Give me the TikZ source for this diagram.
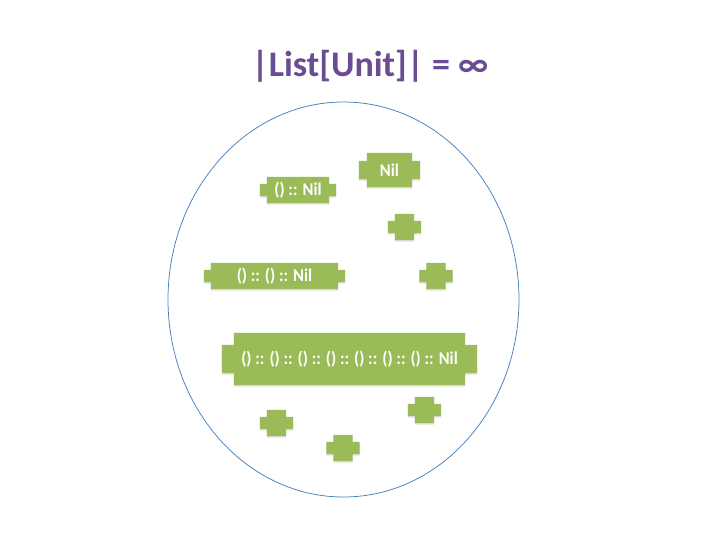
\documentclass[tikz,border=0pt]{standalone}
\usepackage{fontspec}
\setmainfont{Carlito}
\newfontfamily\blockfont{Carlito}[FakeStretch=0.92]
\usetikzlibrary{backgrounds,shadows,shapes.geometric}
\definecolor{titlepurple}{HTML}{6A4C93}
\definecolor{blockgreen}{HTML}{9BBB59}
\definecolor{ringblue}{HTML}{4A7EBB}
\tikzset{
  listblock/.style={inner sep=0pt, text=white, font=\blockfont\fontsize{18}{21}\selectfont\bfseries},
  unitblock/.style={listblock, minimum width=33pt, minimum height=26pt},
  blockfill/.style={fill=blockgreen, drop shadow={shadow xshift=0pt, shadow yshift=-1.5pt, opacity=0.12, fill=black}}
}
\begin{document}
\begin{tikzpicture}[x=1pt, y=-1pt]
\useasboundingbox (0,0) rectangle (720,540);
\node[text=titlepurple, font=\fontsize{36}{42}\selectfont\bfseries] (title) at (370,66) {|List[Unit]| = ∞};
\node[draw=ringblue, line width=0.75pt, ellipse, inner sep=0pt, minimum width=351pt, minimum height=395pt] (ring) at (343.5,299.5) {};
\node[listblock, minimum width=61pt, minimum height=34pt] (nil) at (389.5,170) {Nil};
\node[listblock, minimum width=76pt, minimum height=26pt] (one) at (298,190) {() :: Nil};
\node[listblock, minimum width=141pt, minimum height=26pt] (two) at (274.5,276) {() :: () :: Nil};
\node[listblock, minimum width=255pt, minimum height=52pt] (seven) at (349.5,359) {() :: () :: () :: () :: () :: () :: () :: Nil};
\node[unitblock] (u1) at (404.5,227) {};
\node[unitblock] (u2) at (436,276) {};
\node[unitblock] (u3) at (276.5,423) {};
\node[unitblock] (u4) at (343,448) {};
\node[unitblock] (u5) at (424.5,410) {};
\begin{scope}[on background layer]
\foreach \b/\n in {nil/8pt, one/7pt, two/7pt, seven/12pt, u1/7pt, u2/7pt, u3/7pt, u4/7pt, u5/7pt}
  \fill[blockfill] ([xshift=\n]\b.north west) -- ([xshift=-\n]\b.north east)
    -- ([xshift=-\n, yshift=-\n]\b.north east) -- ([yshift=-\n]\b.north east)
    -- ([yshift=\n]\b.south east) -- ([xshift=-\n, yshift=\n]\b.south east)
    -- ([xshift=-\n]\b.south east) -- ([xshift=\n]\b.south west)
    -- ([xshift=\n, yshift=\n]\b.south west) -- ([yshift=\n]\b.south west)
    -- ([yshift=-\n]\b.north west) -- ([xshift=\n, yshift=-\n]\b.north west) -- cycle;
\end{scope}
\end{tikzpicture}
\end{document}
